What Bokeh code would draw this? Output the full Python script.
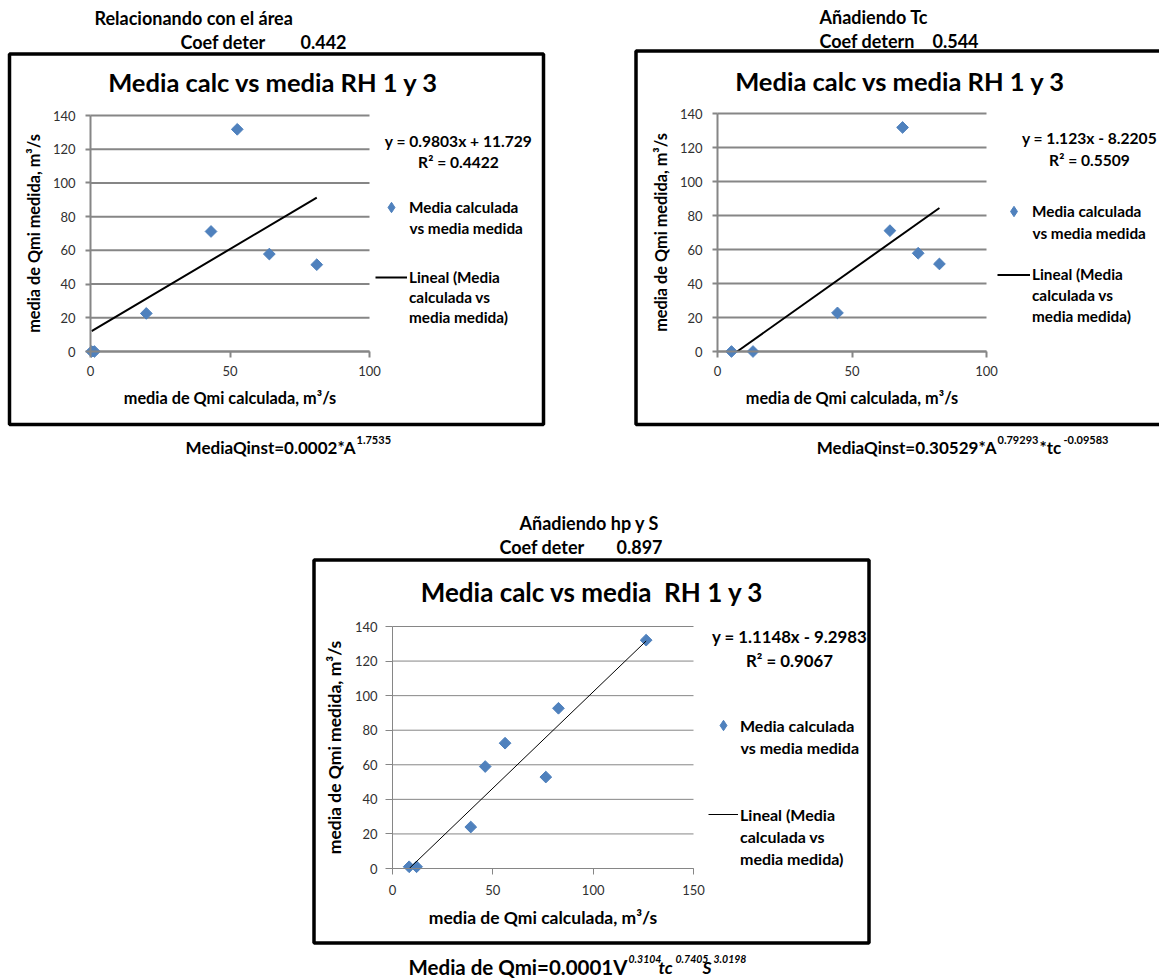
import numpy as np
from bokeh.plotting import figure
from bokeh.models import (Range1d, Label, Legend, LegendItem, BoxAnnotation,
                          FixedTicker, Spacer)
from bokeh.layouts import row, column
from bokeh.embed import file_html
from bokeh.resources import INLINE

# ------------------------------------------------------------------ data
# Chart 1 : "Relacionando con el área"
c1_x = [0.4, 1.4, 20.0, 43.2, 52.6, 64.1, 81.1]
c1_y = [0.0, 0.0, 22.6, 71.2, 131.8, 57.8, 51.5]
c1_slope, c1_icpt = 0.9803, 11.729
c1_eq = ["y = 0.9803x + 11.729", "R² = 0.4422"]
c1_head = ["Relacionando con el área", "Coef deter", "0.442"]
c1_formula = ["MediaQinst=0.0002*A", "1.7535"]

# Chart 2 : "Añadiendo Tc"
c2_x = [5.2, 13.2, 44.6, 64.1, 68.8, 74.6, 82.5]
c2_y = [0.0, 0.0, 22.7, 71.1, 131.8, 57.8, 51.5]
c2_slope, c2_icpt = 1.123, -8.2205
c2_eq = ["y = 1.123x - 8.2205", "R² = 0.5509"]
c2_head = ["Añadiendo Tc", "Coef detern", "0.544"]
c2_formula = ["MediaQinst=0.30529*A", "0.79293", "*tc", "-0.09583"]

# Chart 3 : "Añadiendo hp y S"
c3_x = [8.3, 12.0, 39.0, 46.2, 56.1, 76.4, 82.7, 126.4]
c3_y = [1.0, 1.0, 24.0, 59.0, 72.5, 52.9, 92.7, 132.1]
c3_slope, c3_icpt = 1.1148, -9.2983
c3_eq = ["y = 1.1148x - 9.2983", "R² = 0.9067"]
c3_head = ["Añadiendo hp y S", "Coef deter", "0.897"]
c3_formula = ["Media de Qmi=0.0001V", "0.3104", "tc", "0.7405", "S", "3.0198"]

titles = ["Media calc vs media RH 1 y 3", "Media calc vs media RH 1 y 3",
          "Media calc vs media\u00a0 RH 1 y 3"]
xticks_12 = [0, 50, 100]
xticks_3 = [0, 50, 100, 150]
yticks = [0, 20, 40, 60, 80, 100, 120, 140]
xlabel = "media de Qmi calculada, m³/s"
ylabel = "media de Qmi medida, m³/s"
leg_scatter = ["Media calculada", "vs media medida"]
leg_line = ["Lineal (Media", "calculada vs", "media medida)"]

# ------------------------------------------------------------------ style
FONT = "Lato"
BLUE = "#4F81BD"
GRAY = "#868686"


def make_chart(g, xs, ys, slope, icpt, xticks, title, eq, head, formula):
    xmax, ymax = xticks[-1], yticks[-1]
    ppx = (g["x1"] - g["x0"]) / xmax
    ppy = (g["y0"] - g["y1"]) / ymax

    def dx(px):
        return (px - g["x0"]) / ppx

    def dy(py):
        return (g["y0"] - py) / ppy

    fx, fy, w, h = g["fx"], g["fy"], g["w"], g["h"]
    p = figure(width=w, height=h, output_backend="svg", toolbar_location=None,
               x_range=Range1d(dx(fx), dx(fx + w)),
               y_range=Range1d(dy(fy + h), dy(fy)),
               min_border_left=0, min_border_right=0,
               min_border_top=0, min_border_bottom=0)
    p.outline_line_color = None
    p.background_fill_color = "white"
    p.border_fill_color = "white"
    lw = g["lw"]

    # axes through the origin
    p.xaxis.fixed_location = 0
    p.yaxis.fixed_location = 0
    p.xaxis.bounds = (0, xmax)
    p.yaxis.bounds = (0, ymax)
    p.xaxis.ticker = FixedTicker(ticks=xticks)
    p.yaxis.ticker = FixedTicker(ticks=yticks)
    for ax in (p.xaxis[0], p.yaxis[0]):
        ax.axis_line_color = GRAY
        ax.axis_line_width = lw
        ax.major_tick_in = 0
        ax.minor_tick_line_color = None
        ax.major_tick_line_color = GRAY
        ax.major_tick_line_width = lw
        ax.major_label_text_font = FONT
        ax.major_label_text_font_size = g["tick_fs"]
        ax.major_label_text_color = "#303030"
        ax.axis_label_text_font = FONT
        ax.axis_label_text_font_style = "bold"
        ax.axis_label_text_font_size = g["axis_fs"]
        ax.axis_label_text_color = "black"
    p.xaxis.major_tick_out = g["xtick_out"]
    p.yaxis.major_tick_out = g["ytick_out"]
    p.xaxis.axis_label = xlabel
    p.yaxis.axis_label = ylabel
    p.xaxis.major_label_standoff = g["x_std"]
    p.yaxis.major_label_standoff = g["y_std"]
    p.xaxis.axis_label_standoff = g["xl_std"]
    p.yaxis.axis_label_standoff = g["yl_std"]

    p.xgrid.visible = False
    p.ygrid.visible = False
    # horizontal gridlines at the y ticks, across the plot area only
    p.segment(x0=[0] * len(yticks), x1=[xmax] * len(yticks), y0=yticks, y1=yticks,
              line_color=GRAY, line_width=lw, level="underlay")

    pts = p.scatter(xs, ys, marker="square", angle=np.pi / 4, size=g["msize"],
                    fill_color=BLUE, line_color=BLUE)
    xa = max(min(xs), -icpt / slope)
    xb = max(xs)
    trend = p.line([xa, xb], [slope * xa + icpt, slope * xb + icpt],
                   line_color="black", line_width=g["tlw"])
    blank = p.scatter(x=[], y=[], alpha=0)
    # hidden copy of the series, drawn only as the legend key (diamond shape)
    key_diamond = p.scatter(xs, ys, marker="diamond", fill_color=BLUE,
                            line_color=BLUE, visible=False)

    def lab(px, py, text, size, align="left", style="bold"):
        p.add_layout(Label(x=dx(px), y=dy(py), text=text, text_font=FONT,
                           text_font_size=size, text_font_style=style,
                           text_align=align, text_baseline="middle",
                           text_color="black"))

    # outer chart box
    bl, bt, br, bb = g["box"]
    p.add_layout(BoxAnnotation(left=dx(bl), right=dx(br), top=dy(bt), bottom=dy(bb),
                               fill_alpha=0, line_color="black", line_alpha=1.0,
                               line_width=3.5, level="overlay"))

    # legends (location measured from the frame's bottom-left, which is the canvas)
    def add_leg(items, first_row, pitch, gh):
        top = first_row - gh / 2
        bottom = top + pitch * (len(items) - 1) + gh
        leg = Legend(items=items, location=(g["leg_x"] - fx, (fy + h) - bottom),
                     orientation="vertical", padding=0, margin=0, spacing=int(pitch) - gh,
                     glyph_width=g["gw"], glyph_height=gh, label_height=gh,
                     label_standoff=2, border_line_alpha=0, background_fill_alpha=0,
                     label_text_font=FONT, label_text_font_style="bold",
                     label_text_font_size=g["leg_fs"], label_text_color="black")
        p.add_layout(leg)

    add_leg([LegendItem(label=leg_scatter[0], renderers=[key_diamond])],
            g["rows1"], g["pitch1"], 26)
    lab(g["leg_x"] + g["gw"] + 2, g["rows1"] + g["pitch1"], leg_scatter[1], g["leg_fs"])
    add_leg([LegendItem(label=leg_line[0], renderers=[trend]),
             LegendItem(label=leg_line[1], renderers=[blank]),
             LegendItem(label=leg_line[2], renderers=[blank])],
            g["rows2"], g["pitch2"], int(g["pitch2"]))

    # title, equation, headers, formula
    lab(g["title_xy"][0], g["title_xy"][1], title, g["title_fs"], align="center")
    lab(g["eq_x"], g["eq_y"][0], eq[0], g["eq_fs"], align="center")
    lab(g["eq_x"], g["eq_y"][1], eq[1], g["eq_fs"], align="center")
    for (px, py), t in zip(g["head_xy"], head):
        lab(px, py, t, g["head_fs"])
    for (px, py, align, kind), t in zip(g["formula_xy"], formula):
        if kind == "base":
            lab(px, py, t, g["form_fs"], align=align)
        elif kind == "base_i":
            lab(px, py, t, g["formi_fs"], align=align, style="bold italic")
        elif kind == "sup_i":
            lab(px, py, t, g["sup_fs"], align=align, style="bold italic")
        else:
            lab(px, py, t, g["sup_fs"], align=align)
    return p


common = dict(tick_fs="13px", axis_fs="16.3px", leg_fs="15.3px", eq_fs="15.6px",
              title_fs="25.5px", head_fs="18px", form_fs="17px", formi_fs="17px",
              sup_fs="11px",
              xtick_out=6, ytick_out=5, x_std=8, y_std=10, xl_std=9, yl_std=7,
              lw=2, tlw=2, msize=8.3)

g1 = dict(common, fx=0, fy=0, w=575, h=470, x0=90, x1=369, y0=351, y1=115,
          box=(9, 53.5, 543, 424), gw=32, leg_x=375,
          rows1=207, pitch1=20, rows2=276, pitch2=20.5,
          title_xy=(273, 81), eq_x=458, eq_y=(140, 161),
          head_xy=[(94, 17), (180, 41), (300, 41)],
          formula_xy=[(355, 447, "right", "base"), (356, 439, "left", "sup")])

g2 = dict(common, fx=575, fy=0, w=584, h=470, x0=717, x1=986, y0=351, y1=113,
          box=(635.5, 50.5, 1300, 424), gw=33, leg_x=997,
          rows1=211, pitch1=21.5, rows2=273, pitch2=21.5,
          title_xy=(900, 80), eq_x=1089, eq_y=(137, 159),
          head_xy=[(819, 16), (819, 40), (932, 40)],
          formula_xy=[(996, 447, "right", "base"), (997, 439, "left", "sup"),
                      (1039, 447, "left", "base"), (1063, 439, "left", "sup")])

g3 = dict(common, fx=290, fy=470, w=610, h=509, x0=392, x1=693, y0=868, y1=626,
          lw=1, tlw=1, axis_fs="17.5px", title_fs="26px", leg_fs="16px", eq_fs="16.8px",
          form_fs="20.5px", formi_fs="17.5px", sup_fs="10.5px",
          xtick_out=6, ytick_out=7, x_std=10, y_std=8, xl_std=9, yl_std=7,
          box=(313.5, 559.5, 868.5, 942.5), gw=30, leg_x=708,
          rows1=725, pitch1=21.5, rows2=813, pitch2=22.5,
          title_xy=(592, 591), eq_x=789, eq_y=(636, 660),
          head_xy=[(519, 522), (499, 546), (616, 546)],
          formula_xy=[(627, 966, "right", "base"), (628, 958, "left", "sup_i"),
                      (658, 967, "left", "base_i"), (675, 958, "left", "sup_i"),
                      (702, 967, "left", "base_i"), (713, 958, "left", "sup_i")])

p1 = make_chart(g1, c1_x, c1_y, c1_slope, c1_icpt, xticks_12, titles[0], c1_eq, c1_head, c1_formula)
p2 = make_chart(g2, c2_x, c2_y, c2_slope, c2_icpt, xticks_12, titles[1], c2_eq, c2_head, c2_formula)
p3 = make_chart(g3, c3_x, c3_y, c3_slope, c3_icpt, xticks_3, titles[2], c3_eq, c3_head, c3_formula)

layout = column(row(p1, p2),
                row(Spacer(width=290), p3))

open("out.html", "w").write(file_html(layout, INLINE))
